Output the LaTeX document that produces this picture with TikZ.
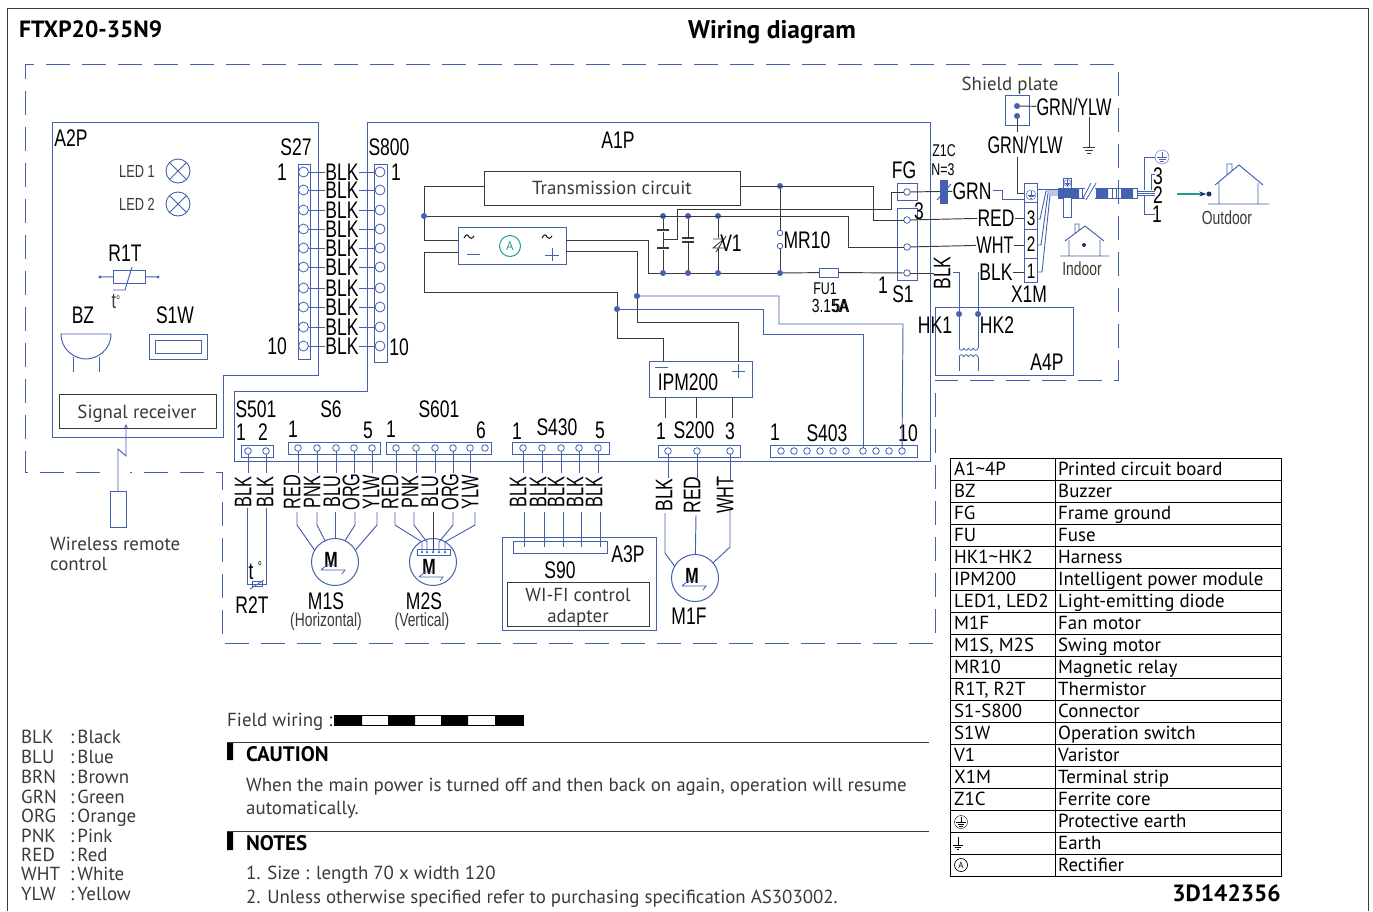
\documentclass[tikz,border=0pt]{standalone}
\usepackage{fontspec}
\usetikzlibrary{arrows.meta}
\setmainfont{PT Sans}
\newfontfamily\cfam[FakeStretch=0.73]{Liberation Sans}
\newfontfamily\cfamb[FakeStretch=0.68]{Liberation Sans}
\definecolor{bl}{HTML}{4560AE}
\definecolor{dk}{HTML}{3A3A3A}
\definecolor{teal2}{HTML}{1F9C95}
\definecolor{navy}{HTML}{1E2F6E}
\newcommand{\bx}[6]{\node[#2,minimum width={(#5)-(#3)},minimum height={(#6)-(#4)}] (#1) at ({((#3)+(#5))/2},{((#4)+(#6))/2}) {};}
\newcommand{\Msym}[3]{%
 \node[cl,font=\cfam\bfseries\fontsize{22}{22}\selectfont] (#1) at (#2,#3) {M};
 \draw[wb,line width=.8pt] ([shift={(-10,10)}]#1.center) -- ([shift={(14,10)}]#1.center) -- ([shift={(11,14)}]#1.center)
   ([shift={(-10,10)}]#1.center) -- ([shift={(-4,5)}]#1.center) -- ([shift={(4,5)}]#1.center);}
\newcommand{\pesym}[4]{%
 \node[circle,draw=#4,inner sep=0,minimum size={2*#3}] (#1) at (#2) {};
 \draw[#4,line width=.7pt] ([yshift=#3*.75pt]#1.center) -- ([yshift=0pt]#1.center)
   ([shift={(-#3*.7,0)}]#1.center) -- ([shift={(#3*.7,0)}]#1.center)
   ([shift={(-#3*.5,#3*.3)}]#1.center) -- ([shift={(#3*.5,#3*.3)}]#1.center)
   ([shift={(-#3*.25,#3*.6)}]#1.center) -- ([shift={(#3*.25,#3*.6)}]#1.center);}
\begin{document}
\begin{tikzpicture}[x=1pt,y=-1pt,
  wb/.style={draw=bl,line width=.95pt},
  wk/.style={draw=dk,line width=.95pt},
  box/.style={rectangle,draw=bl,line width=1pt,inner sep=0,outer sep=0},
  kbox/.style={rectangle,draw=dk,line width=1pt,inner sep=0,outer sep=0},
  strip/.style={box,fill=white},
  term/.style={circle,draw=bl,line width=.8pt,fill=white,inner sep=0,minimum size=6.6pt,outer sep=0},
  tbig/.style={term,minimum size=10pt},
  jn/.style={circle,fill=bl,draw=bl,inner sep=0,minimum size=5.5pt,outer sep=0},
  cl/.style={inner sep=0,text=black,font=\cfam\fontsize{24}{24}\selectfont},
  cs/.style={inner sep=0,text=dk,font=\cfam\fontsize{19}{19}\selectfont},
  cx/.style={inner sep=0,text=black,font=\cfam\fontsize{17}{17}\selectfont},
  body/.style={inner sep=0,text=dk,anchor=west,text height=16pt,text depth=4pt,font=\fontsize{18.9}{18.9}\selectfont},
  bodyc/.style={inner sep=0,text=dk,text height=16pt,text depth=4pt,font=\fontsize{18.9}{18.9}\selectfont},
  head/.style={inner sep=0,text=black,text height=18pt,text depth=5pt,font=\bfseries\fontsize{23.5}{23.5}\selectfont},
  bhead/.style={inner sep=0,text=black,anchor=west,text height=16pt,text depth=4pt,font=\bfseries\fontsize{21}{21}\selectfont},
  dsh/.style={draw=bl,line width=1pt,dash pattern=on 24pt off 12pt}]
\useasboundingbox (0,0) rectangle (1373,911);
\fill[white] (0,0) rectangle (1373,911);
% page frame
\draw[dk,line width=1pt] (7,911) -- (7,8) -- (1368,8) -- (1368,911);
\node[head,anchor=west] (ttl) at (19,31) {FTXP20-35N9};
\node[head,font=\bfseries\fontsize{25.5}{25.5}\selectfont] (ttr) at (772,32) {Wiring diagram};
% dashed limits
\draw[dsh] (100,472) -- (25,472) -- (25,64) -- (1118,64) -- (1118,380) -- (935,380) -- (935,643) -- (222,643) -- (222,472) -- (130,472);
% boards
\draw[wb] (52,122) -- (318,122) -- (318,375) -- (223,375) -- (223,437) -- (52,437) -- cycle;
\draw[wb] (367,122) -- (930,122) -- (930,461) -- (234,461) -- (234,391) -- (367,391) -- cycle;
\bx{a4p}{box}{935}{307}{1073}{375}
\bx{a3p}{box}{502}{537}{656}{630}
\node[cl] (la2p) at (71,138) {A2P};
\node[cl] (la1p) at (618,140) {A1P};
\node[cl] (la4p) at (1047,362) {A4P};
\node[cl] (la3p) at (628,554) {A3P};
% LEDs
\node[cs,font=\cfam\fontsize{17.5}{17.5}\selectfont] (led1) at (137,171) {LED 1};
\node[cs,font=\cfam\fontsize{17.5}{17.5}\selectfont] (led2) at (137,204) {LED 2};
\foreach \n/\y in {a/171,b/204}{
  \node[circle,draw=bl,line width=.9pt,inner sep=0,minimum size=24pt,outer sep=0] (lmp\n) at (178,\y) {};
  \draw[wb,line width=.8pt] (lmp\n.north west) -- (lmp\n.south east) (lmp\n.north east) -- (lmp\n.south west);
}
% R1T
\node[cl] (lr1t) at (125,253) {R1T};
\bx{r1t}{box}{113}{270}{145}{283}
\coordinate (r1l) at (100,277); \coordinate (r1r) at (158,277);
\draw[wb] (r1l) -- (r1t) (r1t) -- (r1r);
\fill[bl] (r1l) circle (1.6pt) (r1r) circle (1.6pt);
\draw[wb] (132,267) -- (125,290) -- (113,290);
\node[cl,text=dk,font=\cfam\fontsize{22}{22}\selectfont] (lt1) at (116,301) {t\raisebox{3pt}{\fontsize{14}{14}\selectfont°}};
% BZ, S1W
\node[cl] (lbz) at (83,315) {BZ};
\node[cl] (ls1w) at (175,315) {S1W};
\draw[wb] (61,334) -- (111,334) .. controls (111,350) and (97,359) .. (86,359) .. controls (75,359) and (61,350) .. (61,334) -- cycle;
\draw[wb] (73,357) -- (73,372) (99,357) -- (99,372);
\bx{s1wo}{box}{149}{334}{207}{359}
\bx{s1wi}{box}{155}{340}{201}{353}
% signal receiver + remote
\bx{sr}{kbox}{59}{394}{216}{428}
\node[bodyc] (lsr) at (137,412) {Signal receiver};
\bx{rem}{box}{110}{491}{126}{527}
\draw[wb,-{Stealth[length=4pt,width=3.5pt]}] (118,491) -- (118,449) -- (126,456) -- (126,424);
\node[body] (lw1) at (50,544) {Wireless remote};
\node[body] (lw2) at (50,564) {control};
% S27 / S800
\bx{s27}{strip}{298}{164}{310}{359}
\bx{s800}{strip}{374}{164}{387}{362}
\foreach \i/\y in {1/172,2/190,3/210,4/229,5/248,6/267,7/288,8/307,9/327,10/346}{
  \node[tbig] (sa\i) at (303.5,\y) {};
  \node[tbig] (sb\i) at (380,\y) {};
  \node[cl] (bk\i) at (342,\y) {BLK};
  \draw[wb] (sa\i) -- (bk\i);
  \draw[wb] (bk\i) -- (sb\i);
}
\node[cl] (ls27) at (296,147) {S27};
\node[cl] (ls800) at (389,147) {S800};
\node[cl] (la1) at (282,172) {1};
\node[cl] (la10) at (277,346) {10};
\node[cl] (lb1) at (396,172) {1};
\node[cl] (lb10) at (399,347) {10};
% connector strips on A1P
\bx{s501}{strip}{241}{445}{273}{457}
\bx{s6}{strip}{288}{442}{380}{454}
\bx{s601}{strip}{386}{442}{491}{454}
\bx{s430}{strip}{512}{442}{609}{454}
\bx{s200}{strip}{658}{445}{740}{457}
\bx{s403}{strip}{770}{445}{917}{457}
\node[cl] (ls501) at (256,409) {S501};
\node[cl] (l5011) at (241,432) {1};
\node[cl] (l5012) at (263,432) {2};
\node[cl] (ls6) at (331,409) {S6};
\node[cl] (l61) at (293,429) {1};
\node[cl] (l65) at (368,430) {5};
\node[cl] (ls601) at (439,409) {S601};
\node[cl] (l6011) at (391,429) {1};
\node[cl] (l6016) at (481,430) {6};
\node[cl] (l4301) at (517,431) {1};
\node[cl] (ls430) at (557,427) {S430};
\node[cl] (l4305) at (600,430) {5};
\node[cl] (l2001) at (661,431) {1};
\node[cl] (ls200) at (694,430) {S200};
\node[cl] (l2003) at (730,431) {3};
\node[cl] (l4031) at (775,432) {1};
\node[cl] (ls403) at (827,433) {S403};
\node[cl] (l40310) at (908,433) {10};
% terminals
\foreach \i/\x in {1/248,2/266}{\node[term] (t501\i) at (\x,451) {};}
\foreach \i/\x in {1/298,2/317,3/336,4/354,5/372}{\node[term] (t6\i) at (\x,448) {};}
\foreach \i/\x in {1/396,2/416,3/435,4/453,5/470,6/485}{\node[term] (t601\i) at (\x,448) {};}
\foreach \i/\x in {1/523,2/542,3/561,4/579,5/598}{\node[term] (t430\i) at (\x,448) {};}
\foreach \i/\x in {1/668,2/697,3/730}{\node[term] (t200\i) at (\x,451) {};}
\foreach \i/\x in {1/781,2/794,3/807,4/820,5/833,6/846,7/863,8/876,9/889,10/902}{\node[term] (t403\i) at (\x,451) {};}
% vertical wire labels
\foreach \n/\x/\t in {a/243/BLK,b/265/BLK,
  c/292/RED,d/312/PNK,e/332/BLU,f/351/ORG,g/371/YLW,
  h/390/RED,i/410/PNK,j/430/BLU,k/450/ORG,l/470/YLW,
  m/518/BLK,n/538/BLK,o/556/BLK,p/575/BLK,q/594/BLK}{
  \node[cl,rotate=90,font=\cfamb\fontsize{24}{24}\selectfont] (v\n) at (\x,492) {\t};
}
\node[cl,rotate=90] (vr) at (664,495) {BLK};
\node[cl,rotate=90] (vs) at (692,495) {RED};
\node[cl,rotate=90,font=\cfamb\fontsize{24}{24}\selectfont] (vt) at (725,495) {WHT};
\foreach \a/\x in {5011/248,5012/266,61/298,62/317,63/336,64/354,65/372,6011/396,6012/416,6013/435,6014/453,6015/470,4301/523,4302/542,4303/561,4304/579,4305/598}{
  \draw[wb] (t\a) -- (\x,473);
}
\draw[wb] (t2001) -- (668,478); \draw[wb] (t2002) -- (697,478); \draw[wb] (t2003) -- (730,480);
% R2T
\draw[wb] (247,508) -- (247,584) -- (266,584) -- (266,508);
\bx{r2t}{box}{252}{581}{262}{586}
\draw[wb,line width=.8pt] (250,589) -- (264,580);
\node[cl,font=\cfam\fontsize{24}{24}\selectfont] (ltt) at (251,572) {t};
\node[cl,font=\cfam\fontsize{14}{14}\selectfont] (ltd) at (260,567) {°};
\node[cl] (lr2t) at (252,605) {R2T};
% M1S
\node[circle,draw=bl,line width=1pt,inner sep=0,minimum size=47pt,outer sep=0] (m1s) at (335,562) {};
\Msym{mm1}{331}{560}
\draw[wb] (297,512) -- (297,525) -- (m1s.150);
\draw[wb] (317,512) -- (317,525) -- (m1s.115);
\draw[wb] (335,512) -- (m1s);
\draw[wb] (355,512) -- (355,525) -- (m1s.65);
\draw[wb] (377,512) -- (377,525) -- (m1s.30);
\node[cl] (lm1s) at (326,601) {M1S};
\node[cs] (lhz) at (326,622) {(Horizontal)};
% M2S
\node[circle,draw=bl,line width=1pt,inner sep=0,minimum size=47pt,outer sep=0] (m2s) at (433,562) {};
\bx{m2st}{box}{417}{549}{450}{555}
\foreach \i/\x in {1/422,2/427,3/433,4/439,5/445}{\node[circle,fill=bl,inner sep=0,minimum size=2.5pt] (md\i) at (\x,552) {};}
\draw[wb,line width=.9pt] (395,512) -- (395,525) -- (422,542) -- (md1);
\draw[wb,line width=.9pt] (414,512) -- (414,525) -- (427,542) -- (md2);
\draw[wk,line width=.9pt] (433,512) -- (md3);
\draw[wb,line width=.9pt] (453,512) -- (453,525) -- (439,542) -- (md4);
\draw[wb,line width=.9pt] (475,512) -- (475,525) -- (445,542) -- (md5);
\Msym{mm2}{429}{567}
\node[cl] (lm2s) at (424,601) {M2S};
\node[cs] (lvt) at (422,622) {(Vertical)};
% A3P
\bx{s90}{box}{513}{541}{607}{553}
\foreach \x in {524,544,563,581,600}{\draw[wb] (\x,512) -- (\x,547);}
\node[cl] (ls90) at (560,570) {S90};
\bx{wifi}{kbox}{507}{582}{649}{626}
\node[bodyc] (lwf1) at (578,595) {WI-FI control};
\node[bodyc] (lwf2) at (578,616) {adapter};
% M1F
\node[circle,draw=bl,line width=1pt,inner sep=0,minimum size=47pt,outer sep=0] (m1f) at (695,578) {};
\Msym{mm3}{692}{576}
\draw[wb] (665,513) -- (665,553) -- (m1f.150);
\draw[wb] (696,515) -- (m1f);
\draw[wb] (730,510) -- (730,547) -- (m1f.40);
\node[cl] (lm1f) at (689,616) {M1F};
% A1P circuit
\bx{tc}{kbox}{484}{171}{740}{205}
\node[bodyc] (ltc) at (612,188) {Transmission circuit};
\bx{rect}{box}{458}{227}{566}{264}
\bx{ipm}{box}{649}{361}{752}{397}
\node[cl] (lipm) at (688,382) {IPM200};
\foreach \n/\x/\y in {j1/424/216,c1t/663/216,c2t/688/216,c3t/718/216,jt/780/186,c1b/663/273,c2b/688/273,c3b/718/273,jm/780/273,jp/637/296,jn/617/309,hk1/959/314,hk2/978/314}{
  \node[jn] (\n) at (\x,\y) {};
}
\node[circle,draw=teal2,line width=1pt,inner sep=0,minimum size=21pt,text=teal2,font=\fontsize{13}{13}\selectfont] (rca) at (510,246) {A};
\draw[black,line width=.9pt] (464,238) .. controls (466,234) and (468,234) .. (469,237) .. controls (470,239) and (472,239) .. (474,236)
  (542,238) .. controls (544,234) and (546,234) .. (547,237) .. controls (548,239) and (550,239) .. (552,236);
\draw[wb] (467,254) -- (480,254) (545,255) -- (559,255) (552,248) -- (552,261);
\draw[wb] (655,367) -- (668,367) (732,371) -- (745,371) (738.5,364) -- (738.5,378);
% wires
\draw[wk] ([yshift=2pt]tc.west) -- (424,186) -- (j1);
\draw[wk] (j1) -- (424,240) -- (458,240);
\draw[wk] (j1) -- (848,216) -- (848,247);
\draw[wk] ([yshift=2pt]tc.east) -- (873,186) -- (873,220);
\draw[wk] (458,252) -- (424,252) -- (424,292) -- (617,292) -- (jn);
\draw[wk] (jn) -- (617,338) -- (663,338) -- (663,361);
\draw[wk] (566,240) -- (648,240) -- (648,273) -- (c1b);
\draw[wk] (c1b) -- (c2b) -- (c3b) -- (jm);
\draw[wk] (566,251) -- (637,251) -- (jp);
\draw[wk] (jp) -- (637,322) -- (738,322) -- (738,361);
\draw[wb] (jp) -- (779,296) -- (779,324) -- (903,324) -- (t40310);
\draw[wb] (jn) -- (763,309) -- (763,334) -- (863,334) -- (t4037);
\draw[wk] (665,397) -- (665,418) (696,397) -- (696,418) (732,397) -- (732,418);
% capacitors etc.
\draw[wk] (c1t) -- (663,230) (663,232) -- (663,248) (663,250) -- (c1b);
\draw[dk,line width=1.8pt] (657,230) -- (669,230) (657,248) -- (669,248) (682,238) -- (694,238) (682,242) -- (694,242);
\draw[wk] (663,239) -- (677,239) -- (677,209) -- (891,209) -- (891,192) -- (897,192);
\draw[wk] (c2t) -- (688,238) (688,242) -- (c2b);
\draw[wk] (c3t) -- (718,238) (718,248) -- (c3b);
\draw[wk,line width=.9pt] (713,239) -- (724,239) -- (713,248) -- (724,248) (716,252) -- (726,236);
\node[cl] (lv1) at (731,243) {V1};
\node[term,minimum size=5.5pt] (mra) at (780,233) {};
\node[term,minimum size=5.5pt] (mrb) at (780,246) {};
\draw[wk] (jt) -- (mra); \draw[wk] (mrb) -- (jm);
\node[cl] (lmr) at (807,240) {MR10};
% S1 / FG / FU1
\bx{fu1}{box}{819}{268}{838}{277}
\bx{fg}{box}{897}{183}{917}{200}
\bx{s1}{box}{897}{208}{917}{280}
\node[term] (fgt) at (907,192) {};
\node[term] (s1a) at (907,220) {};
\node[term] (s1b) at (907,247) {};
\node[term] (s1c) at (907,273) {};
\draw[wk] (jm) -- (fu1); \draw[wk] (fu1) -- (s1c);
\draw[wk] (873,220) -- (s1a);
\draw[wk] (848,247) -- (s1b);
\draw[wk] (897,192) -- (fgt);
\node[cx] (lfu) at (825,289) {FU1};
\node[cx,font=\cfam\fontsize{19}{19}\selectfont] (lfa) at (830,306) {3.15A};
\node[cx,font=\cfam\fontsize{19}{19}\selectfont] (lfb) at (841,306) {5A};
\node[cl] (lfg) at (904,170) {FG};
\node[cl] (ls13) at (919,211) {3};
\node[cl] (ls11) at (883,285) {1};
\node[cl] (ls1) at (903,294) {S1};
\node[cx] (lz1) at (944,151) {Z1C};
\node[cx] (lz2) at (943,170) {N=3};
% right side labels
\node[cl] (lgrn) at (972,191) {GRN};
\node[cl] (lred) at (996,218) {RED};
\node[cl,font=\cfamb\fontsize{24}{24}\selectfont] (lwht) at (995,245) {WHT};
\node[cl] (lblk) at (996,272) {BLK};
\node[cl,rotate=90] (lblkv) at (942,273) {BLK};
\draw[wk] (s1a) -- (lred);
\draw[wk] (s1b) -- (lwht);
\draw[wk] (s1c) -- (lblkv);
\draw[wk] (fgt) -- (lgrn);
\fill[bl] (940,180) rectangle (948,204);
\draw[wb] (937,200) -- (951,184);
\draw[wb] (993,190) -- (1002,190) -- (1002,199) -- (1024,199);
\draw[wb] (953,272) -- (959,272) -- (hk1);
\draw[wb] (lblk.west) -- (978,272) -- (hk2);
% transformer
\draw[wb,line width=.9pt] (hk1) -- (959,348);
\draw[wb,line width=.9pt] (hk2) -- (978,348);
\foreach \x in {959,963.75,968.5,973.25}{
  \draw[wb,line width=.8pt] (\x,348) .. controls (\x+1,351) and (\x+3.75,351) .. (\x+4.75,348);
  \draw[wb,line width=.8pt] (\x,357) .. controls (\x+1,354) and (\x+3.75,354) .. (\x+4.75,357);
}
\draw[wb,line width=.9pt] (959,357) -- (959,371) (978,357) -- (978,371);
\node[cl] (lhk1) at (935,325) {HK1};
\node[cl] (lhk2) at (997,325) {HK2};
% X1M
\bx{x1m}{strip}{1024}{183}{1037}{282}
\draw[wb] (1024,202) -- (1037,202) (1024,229) -- (1037,229) (1024,258) -- (1037,258);
\pesym{pex}{1031,195}{5}{bl}
\node[cl,font=\cfam\fontsize{21}{21}\selectfont] (x3) at (1031,218) {3};
\node[cl,font=\cfam\fontsize{21}{21}\selectfont] (x2) at (1031,244) {2};
\node[cl,font=\cfam\fontsize{21}{21}\selectfont] (x1) at (1031,271) {1};
\node[cl] (lx1m) at (1029,294) {X1M};
\draw[wk] (lred) -- (1024,218) (lwht) -- (1024,245) (lblk) -- (1024,272);
% shield plate
\node[bodyc] (lsh) at (1010,84) {Shield plate};
\bx{shp}{box}{1005}{95}{1029}{125}
\node[jn] (sh1) at (1017,106) {};
\node[jn] (sh2) at (1017,116) {};
\node[cl,font=\cfamb\fontsize{24}{24}\selectfont] (lgy1) at (1074,107) {GRN/YLW};
\node[cl,font=\cfamb\fontsize{24}{24}\selectfont] (lgy2) at (1025,145) {GRN/YLW};
\draw[wk] (sh1) -- (lgy1);
\draw[wk] (sh2) -- (1017,132);
\draw[wk] (1017,157) -- (1017,193) -- (1024,193);
\draw[wk] (1089,117) -- (1089,147);
\draw[wk] (1083,147) -- (1095,147) (1085,150) -- (1093,150) (1087,153) -- (1091,153);
% cable
\draw[wb,line width=.9pt] (1037,189) -- (1058,189);
\draw[wb,line width=.9pt] (1037,219) -- (1040,219) -- (1046,191) -- (1058,191);
\draw[wb,line width=.9pt] (1037,245) -- (1041,245) -- (1048,193) -- (1058,193);
\draw[wb,line width=.9pt] (1037,272) -- (1042,272) -- (1050,195) -- (1058,195);
\draw[wb,line width=.9pt] (1058,188) rectangle (1137,198);
\fill[bl] (1058,188) rectangle (1064,198) (1067,188) rectangle (1079,198) (1096,188) rectangle (1108,198) (1121,188) rectangle (1133,198);
\fill[white] (1085,186) rectangle (1095,200);
\draw[wb,line width=.8pt] (1083,198) -- (1091,183) (1086,200) -- (1096,183);
\draw[wb] (1082,188) -- (1082,198) (1112,188) -- (1112,198) (1116,188) -- (1116,198);
\bx{clp}{strip}{1063}{178}{1071}{217}
\fill[bl] (1063,188) rectangle (1071,198);
\pesym{pec}{1067.5,183}{3.5}{bl}
\draw[wb,line width=.9pt] (1137,191) -- (1155,191) (1137,193) -- (1155,193) (1137,195) -- (1155,195);
\draw[wb] (1144,190) -- (1144,157) -- (1155,157);
\draw[wb] (1151,190) -- (1151,174) -- (1155,174);
\draw[wb] (1144,195) -- (1144,214) -- (1155,214);
\pesym{peo}{1162,157}{7}{bl}
\node[cl] (c3) at (1158,176) {3};
\node[cl] (c2) at (1158,195) {2};
\node[cl] (c1) at (1157,214) {1};
% houses
\node[circle,fill=navy,inner sep=0,minimum size=5pt] (dout) at (1209,194) {};
\coordinate (as) at (1177,194);
\draw[teal2,line width=1.1pt,-{Stealth[length=7pt,width=5pt,color=navy]}] (as) -- (dout);
\draw[wb] (1208,204) -- (1269,204) (1219,183) -- (1219,204) (1258,183) -- (1258,204) (1215,185) -- (1239,165) -- (1263,185) (1227,174) -- (1227,164) -- (1232,164) -- (1232,170);
\node[cs] (lout) at (1227,218) {Outdoor};
\draw[wb] (1060,256) -- (1109,256) (1069,240) -- (1069,256) (1100,240) -- (1100,256) (1065,241) -- (1085,226) -- (1104,241) (1075,234) -- (1075,224) -- (1079,224) -- (1079,230);
\node[circle,fill=navy,inner sep=0,minimum size=4pt] (din) at (1084,245) {};
\node[cs] (lin) at (1082,269) {Indoor};
% colour legend
\foreach \y/\a/\b in {737/BLK/Black,757/BLU/Blue,777/BRN/Brown,797/GRN/Green,816/ORG/Orange,836/PNK/Pink,855/RED/Red,874/WHT/White,894/YLW/Yellow}{
  \node[body] (ca\a) at (21,\y) {\a};
  \node[body] (cb\a) at (70,\y) {:\,\b};
}
% notes
\node[body] (lfw) at (227,720) {Field wiring :};
\draw[black,line width=.8pt] (334,715) rectangle (523,725);
\fill[black] (334,715) rectangle (362,725) (388,715) rectangle (415,725) (441,715) rectangle (468,725) (495,715) rectangle (523,725);
\fill[black] (227,742) rectangle (233,760) (227,831) rectangle (233,850);
\draw[dk,line width=1pt] (227,742.5) -- (929,742.5) (227,831.5) -- (929,831.5);
\node[bhead] (lca) at (246,755) {CAUTION};
\node[body] (lc1) at (246,785) {When the main power is turned off and then back on again, operation will resume};
\node[body] (lc2) at (246,808) {automatically.};
\node[bhead] (lno) at (246,844) {NOTES};
\node[body] (ln1) at (246,873) {1. Size : length 70 x width 120};
\node[body] (ln2) at (246,897) {2. Unless otherwise specified refer to purchasing specification AS303002.};
% table
\draw[black,line width=1pt] (950,458) rectangle (1281,876) (1055,458) -- (1055,876);
\foreach \i in {1,...,18}{\draw[black,line width=1pt] (950,458+22*\i) -- (1281,458+22*\i);}
\foreach \y/\a/\b in {469/{A1\textasciitilde4P}/Printed circuit board,491/BZ/Buzzer,513/FG/Frame ground,535/FU/Fuse,557/{HK1\textasciitilde HK2}/Harness,579/IPM200/Intelligent power module,601/{LED1, LED2}/Light-emitting diode,623/M1F/Fan motor,645/{M1S, M2S}/Swing motor,667/MR10/Magnetic relay,689/{R1T, R2T}/Thermistor,711/S1-S800/Connector,733/S1W/Operation switch,755/V1/Varistor,777/X1M/Terminal strip,799/Z1C/Ferrite core,821/{}/Protective earth,843/{}/Earth,865/{}/Rectifier}{
  \node[body,text=black] (ta\y) at (954,\y) {\a};
  \node[body,text=black] (tb\y) at (1058,\y) {\b};
}
\pesym{tpe}{961,822}{6.5}{black}
\draw[black,line width=.7pt] (958,837) -- (958,845) (953,845) -- (963,845) (955,847) -- (961,847) (957,849) -- (959,849);
\node[circle,draw=black,line width=.7pt,inner sep=0,minimum size=13pt,font=\fontsize{9}{9}\selectfont] (tra) at (961,865) {A};
\node[inner sep=0,anchor=east,text=black,text height=18pt,text depth=5pt,font=\bfseries\fontsize{23.5}{23.5}\selectfont] (ldoc) at (1281,895) {3D142356};
\end{tikzpicture}
\end{document}
